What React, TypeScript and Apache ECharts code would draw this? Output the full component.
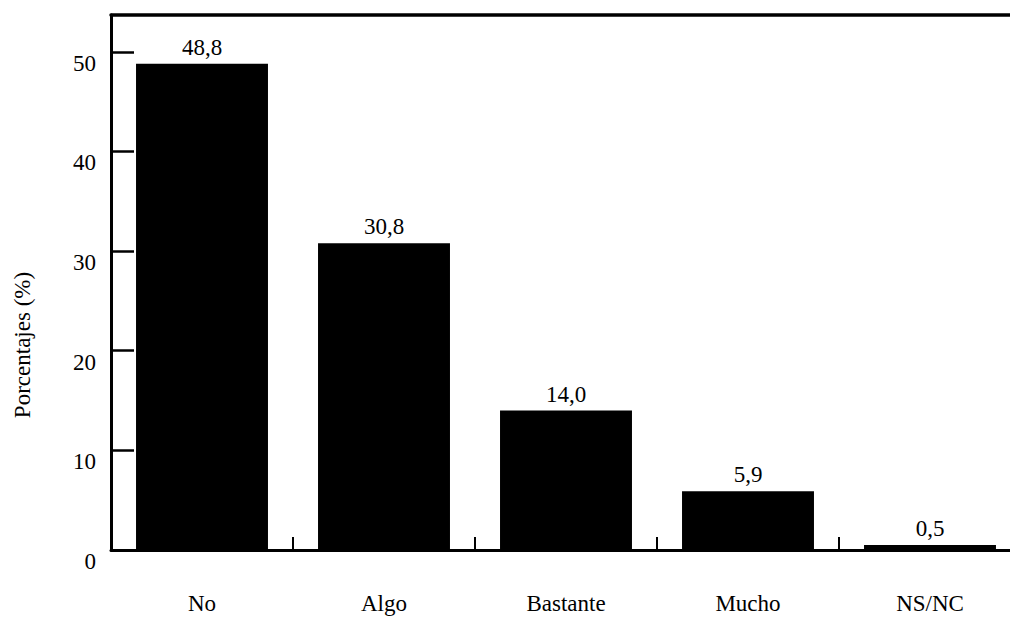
import React, { useEffect, useRef } from "react";
import * as echarts from "echarts";

const categories = ["No", "Algo", "Bastante", "Mucho", "NS/NC"];
const values = [48.8, 30.8, 14.0, 5.9, 0.5];
const yTicks = [0, 10, 20, 30, 40, 50];
const yMax = 53.7;
const yAxisTitle = "Porcentajes (%)";

const FONT = "Liberation Serif";

export default function App() {
  const ref = useRef<HTMLDivElement>(null);
  useEffect(() => {
    if (!ref.current) return;
    const chart = echarts.init(ref.current, undefined, { renderer: "svg" });
    chart.setOption({
      animation: false,
      backgroundColor: "#ffffff",
      textStyle: { fontFamily: FONT, color: "#000" },
      grid: { left: 111, top: 15, right: 19, bottom: 68 },
      xAxis: [
        {
          type: "category",
          data: categories,
          position: "bottom",
          boundaryGap: true,
          axisLine: { show: true, lineStyle: { color: "#000", width: 3 } },
          axisTick: {
            show: true,
            inside: true,
            length: 13,
            alignWithLabel: false,
            lineStyle: { color: "#000", width: 2 },
          },
          axisLabel: {
            margin: 42,
            fontSize: 23,
            fontFamily: FONT,
            color: "#000",
          },
          splitLine: { show: false },
        },
        {
          type: "category",
          data: categories,
          position: "top",
          axisLine: { show: true, lineStyle: { color: "#000", width: 3.5 } },
          axisTick: { show: false },
          axisLabel: { show: false },
          splitLine: { show: false },
        },
      ],
      yAxis: {
        type: "value",
        min: 0,
        max: yMax,
        interval: 10,
        axisLine: { show: true, lineStyle: { color: "#000", width: 3 } },
        axisTick: {
          show: true,
          inside: true,
          length: 23,
          customValues: yTicks,
          lineStyle: { color: "#000", width: 2.5 },
        },
        axisLabel: {
          customValues: yTicks,
          margin: 15,
          fontSize: 23,
          fontFamily: FONT,
          color: "#000",
          verticalAlign: "top",
        },
        splitLine: { show: false },
      },
      graphic: [
        {
          type: "text",
          x: 22,
          y: 345,
          rotation: Math.PI / 2,
          style: {
            text: yAxisTitle,
            font: `23px ${FONT}`,
            fill: "#000",
            textAlign: "center",
            textVerticalAlign: "middle",
          },
        },
      ],
      series: [
        {
          type: "bar",
          xAxisIndex: 0,
          data: values,
          barCategoryGap: "27.5%",
          itemStyle: { color: "#000" },
          label: {
            show: true,
            position: "top",
            distance: 5,
            fontSize: 23,
            fontFamily: FONT,
            color: "#000",
            formatter: (p: any) => Number(p.value).toFixed(1).replace(".", ","),
          },
        },
      ],
    });
    return () => chart.dispose();
  }, []);
  return (
    <div
      style={{
        position: "fixed",
        left: 0,
        top: 0,
        width: 1010,
        height: 618,
        overflow: "hidden",
        background: "#fff",
      }}
    >
      <div ref={ref} style={{ width: 1040, height: 618 }} />
    </div>
  );
}
